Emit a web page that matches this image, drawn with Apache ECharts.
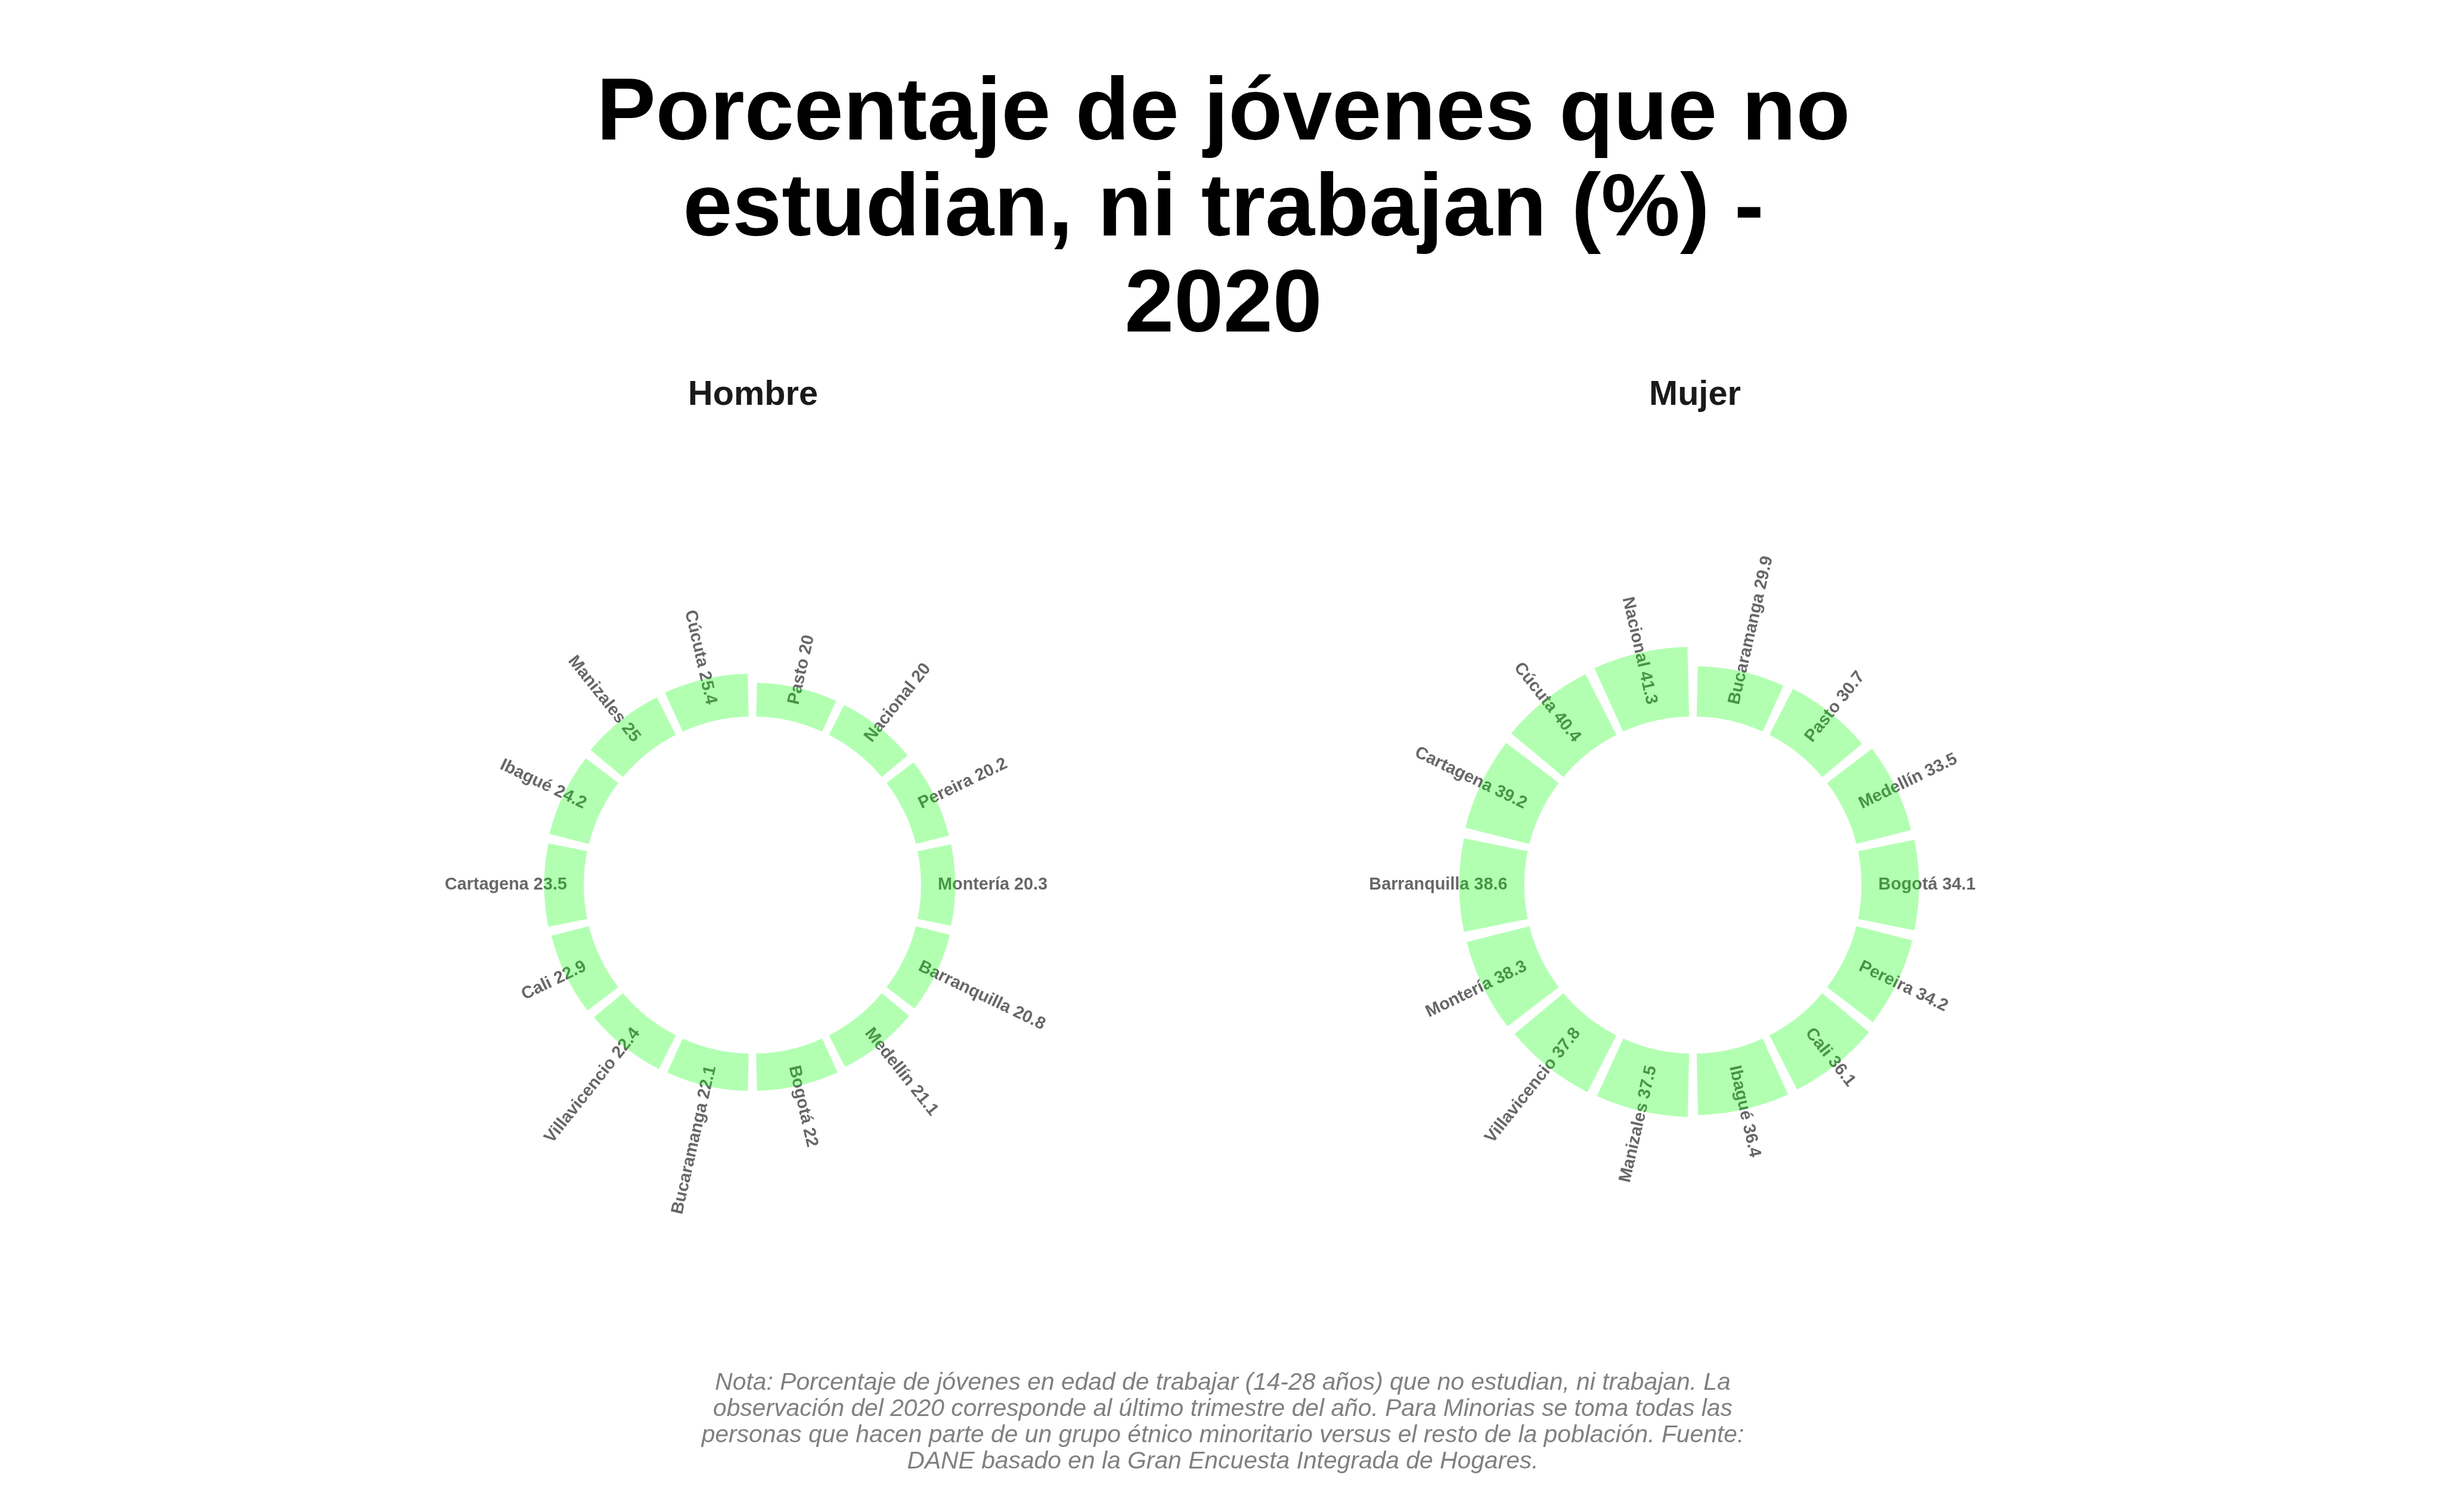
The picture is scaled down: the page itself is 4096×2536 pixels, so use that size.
<!DOCTYPE html>
<html>
<head>
<meta charset="utf-8">
<script src="https://cdn.jsdelivr.net/npm/echarts@6/dist/echarts.min.js"></script>
<style>
html,body{margin:0;padding:0;background:#fff;}
#chart{width:4096px;height:2536px;}
</style>
</head>
<body>
<div id="chart"></div>
<script>
// ---- Data ----
const hombreCiudades = ['Pasto','Nacional','Pereira','Montería','Barranquilla','Medellín','Bogotá','Bucaramanga','Villavicencio','Cali','Cartagena','Ibagué','Manizales','Cúcuta'];
const hombreValores  = [20, 20, 20.2, 20.3, 20.8, 21.1, 22, 22.1, 22.4, 22.9, 23.5, 24.2, 25, 25.4];
const mujerCiudades  = ['Bucaramanga','Pasto','Medellín','Bogotá','Pereira','Cali','Ibagué','Manizales','Villavicencio','Montería','Barranquilla','Cartagena','Cúcuta','Nacional'];
const mujerValores   = [29.9, 30.7, 33.5, 34.1, 34.2, 36.1, 36.4, 37.5, 37.8, 38.3, 38.6, 39.2, 40.4, 41.3];
const panelTitulos   = ['Hombre', 'Mujer'];
const tituloTexto    = 'Porcentaje de jóvenes que no\nestudian, ni trabajan (%) -\n2020';
const notaTexto      = 'Nota: Porcentaje de jóvenes en edad de trabajar (14-28 años) que no estudian, ni trabajan. La\n' +
                       'observación del 2020 corresponde al último trimestre del año. Para Minorias se toma todas las\n' +
                       'personas que hacen parte de un grupo étnico minoritario versus el resto de la población. Fuente:\n' +
                       'DANE basado en la Gran Encuesta Integrada de Hogares.';

// ---- Layout / style constants ----
const FONT = '"Liberation Sans", Arial, Helvetica, sans-serif';
const RMIN = -100, RMAX = 120;        // radial scale (hole from -100 to 0)
const PX_PER_UNIT = 2.828;
const RADIUS = PX_PER_UNIT * (RMAX - RMIN);
const LABEL_R = 10;                   // radial position of labels (data units)
const centers = [[1262, 1484.5], [2839.5, 1484.5]];
const BAR_COLOR = 'rgba(0,255,0,0.3)';

function labelSeries(polarIndex, cities, values) {
  const n = cities.length;
  return {
    type: 'custom',
    coordinateSystem: 'polar',
    polarIndex: polarIndex,
    silent: true,
    data: values.map((v, i) => [v, i]),
    renderItem: function (params, api) {
      const i = api.value(1);
      const pt = api.coord([LABEL_R, i]);
      const theta = (i + 0.5) * 360 / n;
      const right = theta < 180;
      const deg = right ? 90 - theta : 270 - theta;
      return {
        type: 'text',
        x: pt[0], y: pt[1],
        rotation: deg * Math.PI / 180,
        style: {
          text: cities[i] + ' ' + values[i],
          align: right ? 'left' : 'right',
          verticalAlign: 'middle',
          fill: 'rgba(0,0,0,0.6)',
          font: 'bold 28.8px ' + FONT
        }
      };
    }
  };
}

const hiddenAxis = {
  show: false,
  axisLine: {show: false}, axisTick: {show: false}, axisLabel: {show: false},
  splitLine: {show: false}, splitArea: {show: false}
};

const chart = echarts.init(document.getElementById('chart'), null, {renderer: 'canvas'});
chart.setOption({
  backgroundColor: '#ffffff',
  animation: false,
  title: [
    {
      text: tituloTexto, left: 2052, top: 112, textAlign: 'center', textVerticalAlign: 'top', padding: 0,
      textStyle: {fontFamily: FONT, fontWeight: 'bold', fontSize: 149, lineHeight: 161, color: '#000000'}
    },
    {
      text: panelTitulos[0], left: 1263, top: 634, textAlign: 'center', textVerticalAlign: 'top', padding: 0,
      textStyle: {fontFamily: FONT, fontWeight: 'bold', fontSize: 57.7, lineHeight: 58, color: '#1a1a1a'}
    },
    {
      text: panelTitulos[1], left: 2843, top: 634, textAlign: 'center', textVerticalAlign: 'top', padding: 0,
      textStyle: {fontFamily: FONT, fontWeight: 'bold', fontSize: 57.7, lineHeight: 58, color: '#1a1a1a'}
    },
    {
      text: notaTexto, left: 2051, top: 2298, textAlign: 'center', textVerticalAlign: 'top', padding: 0,
      textStyle: {fontFamily: FONT, fontStyle: 'italic', fontWeight: 'normal', fontSize: 40.8, lineHeight: 44, color: '#808080'}
    }
  ],
  polar: [
    {center: centers[0], radius: [0, RADIUS]},
    {center: centers[1], radius: [0, RADIUS]}
  ],
  angleAxis: [
    Object.assign({polarIndex: 0, type: 'category', data: hombreCiudades, startAngle: 90, clockwise: true, boundaryGap: true}, hiddenAxis),
    Object.assign({polarIndex: 1, type: 'category', data: mujerCiudades, startAngle: 90, clockwise: true, boundaryGap: true}, hiddenAxis)
  ],
  radiusAxis: [
    Object.assign({polarIndex: 0, type: 'value', min: RMIN, max: RMAX}, hiddenAxis),
    Object.assign({polarIndex: 1, type: 'value', min: RMIN, max: RMAX}, hiddenAxis)
  ],
  series: [
    {type: 'bar', coordinateSystem: 'polar', polarIndex: 0, data: hombreValores, barCategoryGap: '10%',
     itemStyle: {color: BAR_COLOR}, silent: true},
    {type: 'bar', coordinateSystem: 'polar', polarIndex: 1, data: mujerValores, barCategoryGap: '10%',
     itemStyle: {color: BAR_COLOR}, silent: true},
    labelSeries(0, hombreCiudades, hombreValores),
    labelSeries(1, mujerCiudades, mujerValores)
  ]
});
</script>
</body>
</html>
